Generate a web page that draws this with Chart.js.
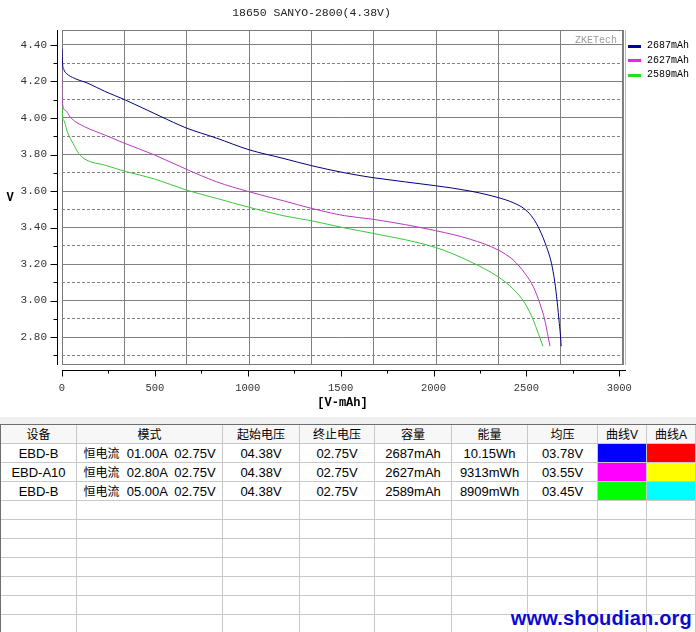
<!DOCTYPE html>
<html>
<head>
<meta charset="utf-8">
<script src="https://cdn.jsdelivr.net/npm/chart.js@4.4.1/dist/chart.umd.min.js"></script>
<style>
  html, body { margin: 0; padding: 0; background: #fff; }
  #page { position: relative; width: 696px; height: 632px; overflow: hidden; }
  #chart { display: block; }
  .strip { height: 7px; background: #f0f0f0; }
  .tbl { border-top: 1px solid #6e6e6e; border-left: 1px solid #6e6e6e; height: 207px; overflow: hidden; }
  table { border-collapse: separate; border-spacing: 0; table-layout: fixed; width: 695px;
          font: 13px "Liberation Sans", "Noto Sans CJK SC", sans-serif; color: #000; }
  td, th { height: 18px; padding: 0; border-right: 1px solid #c8c8c8; border-bottom: 1px solid #c8c8c8;
           text-align: center; font-weight: normal; vertical-align: top; }
  td > div, th > div { height: 18px; line-height: 18px; overflow: hidden; white-space: pre; padding-top: 1px; box-sizing: border-box; }
  th { background: #f7f7f7; font-size: 12px; }
  .cjk { font-size: 12px; }
  .wm { position: absolute; right: 4px; top: 607px; font: bold 20px "Liberation Sans", Arial, sans-serif;
        color: #0a0ad2; letter-spacing: 0.2px; text-shadow: 0 0 2px #fff, 0 0 2px #fff, 0 0 1px #fff; }
</style>
</head>
<body>
<div id="page">
  <canvas id="chart" width="696" height="417"></canvas>
  <div class="strip"></div>
  <div class="tbl"><table id="info"></table></div>
  <div class="wm">www.shoudian.org</div>
</div>
<script>
// discharge curves, capacity (mAh) / voltage (V)
const blueCap  = [0, 3, 10, 23, 68, 140, 230, 338, 528, 670, 831, 1007, 1190, 1343, 1520, 1675, 2011, 2196, 2348, 2429, 2492, 2537, 2572, 2608, 2635, 2653, 2666, 2677, 2684, 2687];
const blueVolt = [4.38, 4.30, 4.265, 4.245, 4.217, 4.19, 4.146, 4.10, 4.01, 3.945, 3.89, 3.826, 3.779, 3.739, 3.70, 3.673, 3.629, 3.60, 3.564, 3.536, 3.50, 3.45, 3.386, 3.295, 3.204, 3.10, 2.99, 2.875, 2.80, 2.75];

const pinkCap  = [0, 1, 15, 50, 122, 230, 338, 499, 670, 831, 1007, 1190, 1343, 1520, 1675, 2011, 2200, 2348, 2429, 2492, 2537, 2572, 2599, 2617, 2627];
const pinkVolt = [4.38, 4.10, 4.044, 3.998, 3.952, 3.907, 3.861, 3.797, 3.719, 3.651, 3.596, 3.547, 3.505, 3.465, 3.445, 3.383, 3.335, 3.277, 3.222, 3.149, 3.076, 2.985, 2.893, 2.802, 2.75];

const greenCap  = [0, 1, 8, 30, 60, 90, 131, 230, 338, 499, 670, 831, 1007, 1190, 1343, 1520, 1675, 2011, 2200, 2348, 2429, 2492, 2537, 2564, 2589];
const greenVolt = [4.38, 4.05, 3.99, 3.92, 3.86, 3.806, 3.77, 3.742, 3.708, 3.666, 3.605, 3.56, 3.511, 3.465, 3.437, 3.398, 3.368, 3.291, 3.212, 3.13, 3.063, 2.985, 2.893, 2.82, 2.75];

const seriesLabels = ['2687mAh', '2627mAh', '2589mAh'];
const lineColors   = ['#000080', '#b838c0', '#38c838'];
const legendColors = ['#0000b0', '#f020f0', '#20e020'];

const xMajor = [0, 500, 1000, 1500, 2000, 2500, 3000];
const xMinor = [250, 750, 1250, 1750, 2250, 2750];
const yMajor = [2.8, 3.0, 3.2, 3.4, 3.6, 3.8, 4.0, 4.2, 4.4];
const yMinor = [2.7, 2.9, 3.1, 3.3, 3.5, 3.7, 3.9, 4.1, 4.3];

// table under the chart
const tHead    = ['设备', '模式', '起始电压', '终止电压', '容量', '能量', '均压', '曲线V', '曲线A'];
const tDevice  = ['EBD-B', 'EBD-A10', 'EBD-B'];
const tMode    = ['01.00A  02.75V', '02.80A  02.75V', '05.00A  02.75V'];
const tStartV  = ['04.38V', '04.38V', '04.38V'];
const tEndV    = ['02.75V', '02.75V', '02.75V'];
const tCap     = ['2687mAh', '2627mAh', '2589mAh'];
const tEnergy  = ['10.15Wh', '9313mWh', '8909mWh'];
const tAvgV    = ['03.78V', '03.55V', '03.45V'];
const tColorV  = ['#0000ff', '#ff00ff', '#00ff00'];
const tColorA  = ['#ff0000', '#ffff00', '#00ffff'];
const colWidths = [76, 146, 77, 75, 77, 76, 70, 49, 49];

function cell(tag, content, bg) {
  const style = bg ? ' style="background:' + bg + '"' : '';
  return '<' + tag + style + '><div>' + content + '</div></' + tag + '>';
}

function buildTable() {
  const t = document.getElementById('info');
  let html = '<colgroup>' + colWidths.map(w => '<col style="width:' + w + 'px">').join('') + '</colgroup>';
  html += '<tr>' + tHead.map(h => cell('th', h)).join('') + '</tr>';
  for (let i = 0; i < tDevice.length; i++) {
    html += '<tr>' + cell('td', tDevice[i]) + cell('td', '<span class="cjk">恒电流</span>  ' + tMode[i]) +
      cell('td', tStartV[i]) + cell('td', tEndV[i]) + cell('td', tCap[i]) + cell('td', tEnergy[i]) +
      cell('td', tAvgV[i]) + cell('td', '', tColorV[i]) + cell('td', '', tColorA[i]) + '</tr>';
  }
  for (let i = 0; i < 8; i++) {
    html += '<tr>' + tHead.map(() => cell('td', '')).join('') + '</tr>';
  }
  t.innerHTML = html;
}
buildTable();

function zip(xs, ys) {
  return xs.map((v, i) => ({ x: v, y: ys[i] }));
}

const frame = {
  id: 'frame',
  beforeDatasetsDraw(chart) {
    const { ctx, chartArea: a } = chart;
    ctx.save();
    ctx.strokeStyle = '#7a7a7a';
    ctx.lineWidth = 1;
    ctx.strokeRect(a.left + 0.5, a.top + 0.5, a.right - a.left - 1, a.bottom - a.top - 1);
    ctx.strokeStyle = '#bbbbbb';
    ctx.beginPath();
    ctx.moveTo(a.right + 2.5, a.top);
    ctx.lineTo(a.right + 2.5, a.bottom);
    ctx.stroke();
    ctx.fillStyle = '#9a9a9a';
    ctx.font = '10px "Liberation Mono"';
    ctx.textAlign = 'right';
    ctx.textBaseline = 'middle';
    ctx.fillText('ZKETech', a.right - 6, a.top + 10);
    ctx.restore();
  },
  afterDraw(chart) {
    const { ctx, chartArea: a, scales: { x, y } } = chart;
    ctx.save();
    ctx.strokeStyle = '#000';
    ctx.lineWidth = 1;
    const ax = a.left - 4.5;
    const ay = a.bottom + 5.5;
    ctx.beginPath();
    ctx.moveTo(ax, a.top);
    ctx.lineTo(ax, a.bottom);
    yMajor.forEach(v => {
      const p = Math.round(y.getPixelForValue(v)) + 0.5;
      ctx.moveTo(ax - 7, p); ctx.lineTo(ax, p);
    });
    yMinor.forEach(v => {
      const p = Math.round(y.getPixelForValue(v)) + 0.5;
      ctx.moveTo(ax - 4, p); ctx.lineTo(ax, p);
    });
    ctx.moveTo(a.left, ay);
    ctx.lineTo(a.right + 3, ay);
    xMajor.forEach(v => {
      const p = Math.round(x.getPixelForValue(v)) + 0.5;
      ctx.moveTo(p, ay); ctx.lineTo(p, ay + 6);
    });
    xMinor.forEach(v => {
      const p = Math.round(x.getPixelForValue(v)) + 0.5;
      ctx.moveTo(p, ay); ctx.lineTo(p, ay + 3);
    });
    ctx.stroke();

    // axis titles
    ctx.fillStyle = '#000';
    ctx.font = 'bold 12px "Liberation Mono"';
    ctx.textAlign = 'center';
    ctx.textBaseline = 'middle';
    ctx.fillText('[V-mAh]', (a.left + a.right) / 2, a.bottom + 38);
    ctx.fillText('V', 10, (a.top + a.bottom) / 2);

    // legend
    ctx.font = '10px "Liberation Mono"';
    ctx.textAlign = 'left';
    chart.data.datasets.forEach((ds, i) => {
      const cy = a.top + 15.5 + i * 14.5;
      ctx.fillStyle = legendColors[i];
      ctx.fillRect(a.right + 5, Math.round(cy) - 1, 13, 3);
      ctx.fillStyle = '#000';
      ctx.fillText(ds.label, a.right + 24, cy);
    });
    ctx.restore();
  }
};

const yMin = 2.647, yMax = 4.482;

new Chart(document.getElementById('chart'), {
  type: 'line',
  data: {
    datasets: [
      { label: seriesLabels[0], data: zip(blueCap, blueVolt), borderColor: lineColors[0] },
      { label: seriesLabels[1], data: zip(pinkCap, pinkVolt), borderColor: lineColors[1] },
      { label: seriesLabels[2], data: zip(greenCap, greenVolt), borderColor: lineColors[2] }
    ]
  },
  options: {
    responsive: false,
    animation: false,
    layout: { padding: { left: 0, right: 73, top: 0, bottom: 0 } },
    elements: {
      line: { borderWidth: 1, cubicInterpolationMode: 'monotone', fill: false },
      point: { radius: 0, hoverRadius: 0 }
    },
    plugins: {
      legend: { display: false },
      tooltip: { enabled: false },
      title: {
        display: true,
        text: '18650 SANYO-2800(4.38V)',
        color: '#222',
        font: { family: 'Liberation Mono', size: 11.5, weight: 'normal' },
        padding: { top: 6, bottom: 10.2 }
      }
    },
    scales: {
      x: {
        type: 'linear', min: 0, max: 3020, position: 'bottom',
        afterBuildTicks: s => { s.ticks = xMajor.map(v => ({ value: v })); },
        afterFit: s => { s.height = 52; },
        grid: { display: false, drawTicks: false },
        border: { display: false },
        ticks: {
          padding: 17, color: '#333', autoSkip: false, maxRotation: 0,
          font: { family: 'Liberation Mono', size: 10.5 },
          callback: v => String(v)
        }
      },
      xg: {
        type: 'linear', min: 0, max: 9, position: 'bottom',
        ticks: { display: false, stepSize: 1 },
        afterFit: s => { s.height = 0; },
        grid: { color: '#808080', drawTicks: false },
        border: { display: false }
      },
      y: {
        type: 'linear', min: yMin, max: yMax, position: 'left',
        afterBuildTicks: s => { s.ticks = yMajor.map(v => ({ value: v })); },
        afterFit: s => { s.width = 62; },
        grid: { color: '#808080', drawTicks: false },
        border: { display: false },
        ticks: {
          padding: 15, color: '#333', autoSkip: false,
          font: { family: 'Liberation Mono', size: 11 },
          callback: v => v.toFixed(2)
        }
      },
      yd: {
        type: 'linear', min: yMin, max: yMax, position: 'left',
        afterBuildTicks: s => { s.ticks = yMinor.map(v => ({ value: v })); },
        afterFit: s => { s.width = 0; },
        ticks: { display: false },
        grid: { color: '#808080', drawTicks: false },
        border: { display: false, dash: [3, 2] }
      }
    }
  },
  plugins: [frame]
});
</script>
</body>
</html>
